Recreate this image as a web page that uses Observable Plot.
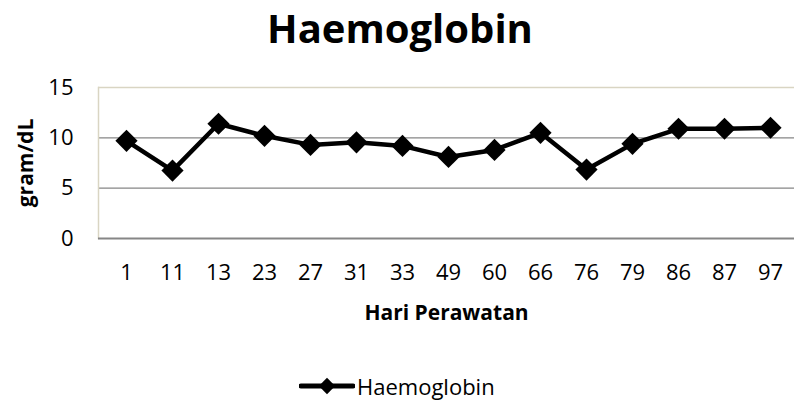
<!DOCTYPE html>
<html>
<head>
<meta charset="utf-8">
<script src="https://cdn.jsdelivr.net/npm/d3@7"></script>
<script src="https://cdn.jsdelivr.net/npm/@observablehq/plot@0.6"></script>
<style>
  html, body { margin: 0; padding: 0; background: #fff; }
  body { width: 794px; height: 401px; overflow: hidden; font-family: "Open Sans", Lato, sans-serif; }
  #title { height: 60px; line-height: 56px; font-size: 40px; font-weight: bold; text-align: center; padding-left: 6px; color: #000; }
  #chart svg { display: block; overflow: visible; }
  #chart g[aria-label="x-axis label"] text, #chart g[aria-label="y-axis label"] text { font-weight: bold; font-size: 21px; }
  #legend { height: 71px; position: relative; }
  #legend .item { position: absolute; left: 299px; top: 41px; display: flex; align-items: center; font-size: 22px; line-height: 30px; }
</style>
</head>
<body>
<div id="title">Haemoglobin</div>
<div id="chart"></div>
<div id="legend"></div>
<script>
const days = ["1","11","13","23","27","31","33","49","60","66","76","79","86","87","97"];
const hb = [9.7, 6.75, 11.4, 10.2, 9.3, 9.55, 9.2, 8.1, 8.8, 10.5, 6.85, 9.4, 10.9, 10.9, 11.0];
const yTicks = [0, 5, 10, 15];
const gridValues = [5, 10];
const seriesName = "Haemoglobin";
const xTitle = "Hari Perawatan";
const yTitle = "gram/dL";

const data = days.map((d, i) => ({day: d, value: hb[i]}));

const chart = Plot.plot({
  width: 794,
  height: 270,
  marginTop: 27,
  marginBottom: 92,
  marginLeft: 98,
  marginRight: 0,
  style: {fontFamily: "'Open Sans', Lato, sans-serif", fontSize: "22px", color: "#000", background: "transparent"},
  x: {type: "point", domain: days, range: [98, 798], padding: 0.5},
  y: {domain: [0, 15]},
  marks: [
    Plot.ruleY(gridValues, {stroke: "#868686", strokeWidth: 1.3}),
    Plot.ruleY([15], {stroke: "#d9d5c3", strokeWidth: 1.3}),
    Plot.frame({anchor: "left", stroke: "#d9d5c3", strokeWidth: 1.5}),
    Plot.ruleY([0], {stroke: "#868686", strokeWidth: 1.8}),
    Plot.axisY({ticks: yTicks, tickSize: 0, tickPadding: 25, label: yTitle, labelAnchor: "center", labelArrow: "none", labelOffset: 80, fontSize: 22}),
    Plot.axisX({tickSize: 0, tickPadding: 26, label: xTitle, labelAnchor: "center", labelArrow: "none", labelOffset: 81, fontSize: 22}),
    Plot.line(data, {x: "day", y: "value", stroke: "#000", strokeWidth: 4.5}),
    Plot.dot(data, {x: "day", y: "value", symbol: "diamond2", r: 10, fill: "#000", stroke: "none"})
  ]
});
document.getElementById("chart").appendChild(chart);

// legend
const item = d3.select("#legend").append("div").attr("class", "item");
const sw = item.append("svg").attr("width", 56).attr("height", 20);
sw.append("line").attr("x1", 2).attr("x2", 54).attr("y1", 10).attr("y2", 10).attr("stroke", "#000").attr("stroke-width", 5).attr("stroke-linecap", "round");
sw.append("path").attr("d", d3.symbol(d3.symbolDiamond2, 170)()).attr("transform", "translate(28,10)").attr("fill", "#000");
item.append("span").text(seriesName).style("margin-left", "2px");
</script>
</body>
</html>
